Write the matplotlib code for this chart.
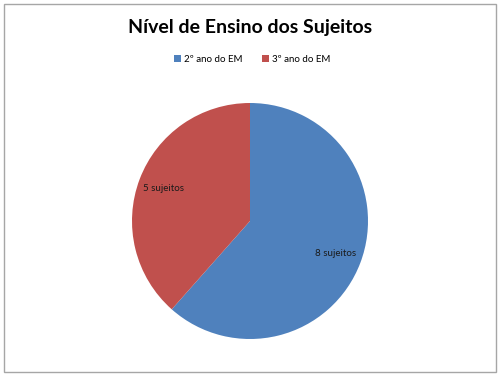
import matplotlib.pyplot as plt
from matplotlib.patches import Rectangle, Patch

categories = ["2º ano do EM", "3º ano do EM"]
values = [8, 5]
labels = ["8 sujeitos", "5 sujeitos"]
colors = ["#4F81BD", "#C0504D"]

W, H = 504, 390
plt.rcParams['font.family'] = ['Lato', 'DejaVu Sans']

fig = plt.figure(figsize=(W / 100, H / 100), dpi=100)
fig.patch.set_facecolor("white")

# chart frame
fig.patches.append(Rectangle((4 / W, 18 / H), 492 / W, 368 / H, transform=fig.transFigure,
                             fill=False, edgecolor="#a6a6a6", linewidth=1.0))

# pie centred at (250, 221) px with radius 118 px
cx, cy, r = 250, 221, 118
ax = fig.add_axes([(cx - r) / W, (H - cy - r) / H, 2 * r / W, 2 * r / H])
wedges, texts = ax.pie(values, colors=colors, startangle=90, counterclock=False,
                       labels=labels, labeldistance=0.78,
                       textprops=dict(fontsize=7, color="#1a1a1a"))
for t in texts:
    t.set_ha("center")
    t.set_va("center")
ax.set_xlim(-1, 1)
ax.set_ylim(-1, 1)
ax.set_aspect("equal")

fig.text(250 / W, 1 - 28 / H, "Nível de Ensino dos Sujeitos", ha="center", va="center",
         fontsize=14, fontweight="bold", color="#000000")

handles = [Patch(facecolor=c, edgecolor="none") for c in colors]
fig.legend(handles, categories, loc="center", bbox_to_anchor=(252 / W, 1 - 59 / H),
           ncol=2, frameon=False, fontsize=7, handlelength=0.7, handleheight=0.7,
           handletextpad=0.3, columnspacing=2.0)

fig.savefig("out.png", dpi=100)
